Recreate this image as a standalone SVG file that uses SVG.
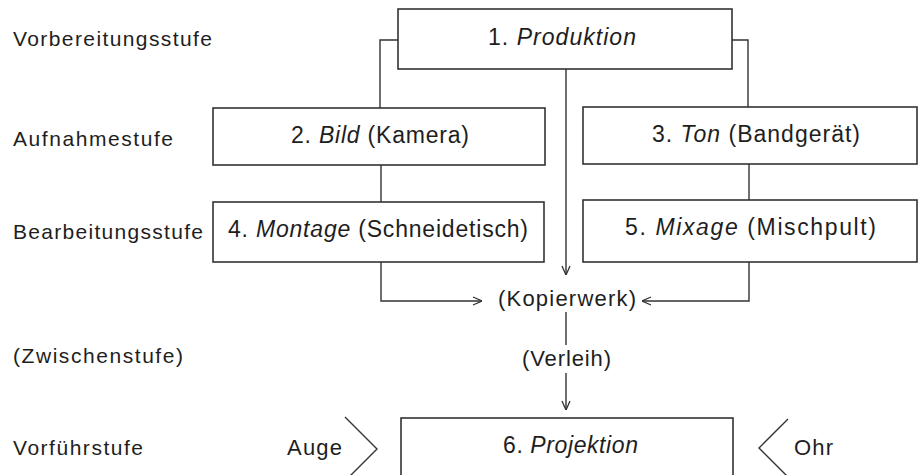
<svg xmlns="http://www.w3.org/2000/svg" width="922" height="475" viewBox="0 0 922 475">
<style>
text{font-family:"Liberation Sans",Arial,sans-serif;fill:#1e1e1e}
.lbl{font-size:21px}
.box{font-size:23px}
.mid{font-size:22px}
.it{font-style:italic}
.n{fill:#fff;stroke:#333;stroke-width:1.6}
.c{fill:none;stroke:#333;stroke-width:1.4}
</style>
<defs>
<marker id="arr" viewBox="0 0 10 10" refX="10" refY="5" markerWidth="10" markerHeight="10" markerUnits="userSpaceOnUse" orient="auto">
<path d="M1,1 L10,5 L1,9" fill="none" stroke="#333" stroke-width="1.3"/>
</marker>
</defs>
<rect width="922" height="475" fill="#fff"/>
<g id="stage-labels">
<text class="lbl" x="13" y="46" textLength="199" lengthAdjust="spacing">Vorbereitungsstufe</text>
<text class="lbl" x="13" y="146" textLength="160" lengthAdjust="spacing">Aufnahmestufe</text>
<text class="lbl" x="13" y="239" textLength="190" lengthAdjust="spacing">Bearbeitungsstufe</text>
<text class="lbl" x="13" y="363" textLength="170" lengthAdjust="spacing">(Zwischenstufe)</text>
<text class="lbl" x="13" y="455" textLength="130" lengthAdjust="spacing">Vorführstufe</text>
</g>
<g id="connectors">
<path class="c" d="M398,40 H380 V108"/>
<path class="c" d="M732,40 H748 V107"/>
<path class="c" d="M381,165 V202"/>
<path class="c" d="M749,164 V200"/>
<path class="c" d="M566,69 V275" marker-end="url(#arr)"/>
<path class="c" d="M381,262 V301 H482" marker-end="url(#arr)"/>
<path class="c" d="M749,262 V301 H642" marker-end="url(#arr)"/>
<path class="c" d="M566,312 V345"/>
<path class="c" d="M566,373 V410" marker-end="url(#arr)"/>
<path class="c" d="M345,417 L377,449 L345,481"/>
<path class="c" d="M788,419 L759,448 L788,477"/>
</g>
<g id="n1">
<rect class="n" x="398" y="9" width="334" height="60"/>
<text class="box" x="488" y="45" textLength="148" lengthAdjust="spacing">1. <tspan class="it">Produktion</tspan></text>
</g>
<g id="n2">
<rect class="n" x="213" y="108" width="332" height="57"/>
<text class="box" x="291" y="143" textLength="178" lengthAdjust="spacing">2. <tspan class="it">Bild</tspan> (Kamera)</text>
</g>
<g id="n3">
<rect class="n" x="583" y="107" width="334" height="57"/>
<text class="box" x="652" y="142" textLength="208" lengthAdjust="spacing">3. <tspan class="it">Ton</tspan> (Bandgerät)</text>
</g>
<g id="n4">
<rect class="n" x="213" y="202" width="331" height="60"/>
<text class="box" x="228" y="237" textLength="300" lengthAdjust="spacing">4. <tspan class="it">Montage</tspan> (Schneidetisch)</text>
</g>
<g id="n5">
<rect class="n" x="583" y="200" width="334" height="62"/>
<text class="box" x="625" y="235" textLength="251" lengthAdjust="spacing">5. <tspan class="it">Mixage</tspan> (Mischpult)</text>
</g>
<g id="kopierwerk">
<text class="mid" x="498" y="306" textLength="138" lengthAdjust="spacing">(Kopierwerk)</text>
</g>
<g id="verleih">
<text class="mid" x="522" y="366" textLength="89" lengthAdjust="spacing">(Verleih)</text>
</g>
<g id="n6">
<rect class="n" x="401" y="418" width="332" height="80"/>
<text class="box" x="503" y="453" textLength="135" lengthAdjust="spacing">6. <tspan class="it">Projektion</tspan></text>
</g>
<g id="auge">
<text class="mid" x="287" y="455" textLength="55" lengthAdjust="spacing">Auge</text>
</g>
<g id="ohr">
<text class="mid" x="794" y="455" textLength="39" lengthAdjust="spacing">Ohr</text>
</g>
</svg>
